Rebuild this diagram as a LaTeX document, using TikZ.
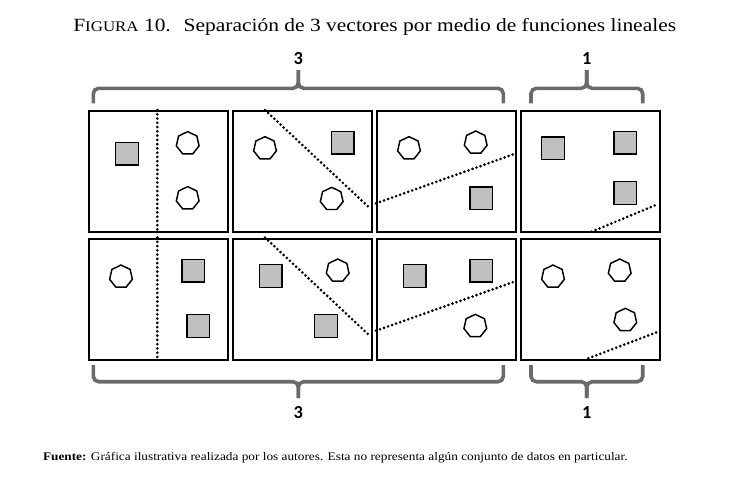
\documentclass[tikz,border=0pt]{standalone}
\usepackage{fontspec}
\setmainfont{Liberation Serif}
\newfontfamily\bracefont{Carlito}
\usetikzlibrary{shapes.geometric}

\begin{document}
\begin{tikzpicture}[x=0.75pt,y=-0.75pt,
    panel/.style={draw,line width=1.5pt,minimum width=103.9pt,minimum height=91.1pt,inner sep=0pt,anchor=north west},
    sq/.style={draw,fill=gray!50,line width=1.1pt,minimum size=17pt,inner sep=0pt},
    hep/.style={draw,regular polygon,regular polygon sides=7,line width=1.1pt,minimum size=17.5pt,inner sep=0pt},
    sep/.style={line width=2.2pt,line cap=round,dash pattern=on 0pt off 3.2pt},
    brace/.style={draw=black!58,line width=2.7pt,rounded corners=4pt},
    bracelabel/.style={font=\bracefont\bfseries\fontsize{13.8pt}{15pt}\selectfont,inner sep=0pt}]
  \useasboundingbox (0,0) rectangle (731,482);
  \node[anchor=base west,inner sep=0pt,xscale=1.15,font=\fontsize{14pt}{16pt}\selectfont] (title) at (73,31)
    {F{\fontsize{11pt}{12pt}\selectfont IGURA} 10.\hspace{0.6em}Separación de 3 vectores por medio de funciones lineales};
  \foreach \c/\x in {1/88,2/232,3/376,4/520} {
    \node[panel] (t\c) at (\x,110) {};
    \node[panel] (b\c) at (\x,237.5) {};
  }
  \draw[sep] (157.3,110) -- (157.3,231.7);
  \draw[sep] (265,110) -- (370,208.3);
  \draw[sep] (376,203.3) -- (514.3,154);
  \draw[sep] (591.7,231.7) -- (658.3,204);
  \draw[sep] (157.3,237.5) -- (157.3,358.3);
  \draw[sep] (265,237.5) -- (370,336);
  \draw[sep] (376,330.7) -- (514.3,281.7);
  \draw[sep] (588.3,358.3) -- (658.3,331.7);
  \node[sq] (t1a) at (127,153.7) {};
  \node[hep] (t1b) at (187.7,143.3) {};
  \node[hep] (t1c) at (187.7,198.3) {};
  \node[hep] (t2a) at (265,148.3) {};
  \node[sq] (t2b) at (342.7,142.7) {};
  \node[hep] (t2c) at (331.7,199) {};
  \node[hep] (t3a) at (409,148.3) {};
  \node[hep] (t3b) at (475.7,142.7) {};
  \node[sq] (t3c) at (481.3,198.3) {};
  \node[sq] (t4a) at (553,148.3) {};
  \node[sq] (t4b) at (625.3,142.7) {};
  \node[sq] (t4c) at (625.3,193) {};
  \node[hep] (b1a) at (121,276.7) {};
  \node[sq] (b1b) at (193.3,270.7) {};
  \node[sq] (b1c) at (198.3,326) {};
  \node[sq] (b2a) at (270.7,276) {};
  \node[hep] (b2b) at (337.7,270.7) {};
  \node[sq] (b2c) at (326,326) {};
  \node[sq] (b3a) at (414.7,276) {};
  \node[sq] (b3b) at (481.3,270.7) {};
  \node[hep] (b3c) at (475.3,326) {};
  \node[hep] (b4a) at (553,276.7) {};
  \node[hep] (b4b) at (619.7,270.7) {};
  \node[hep] (b4c) at (625.3,320) {};
  \draw[brace] (93.3,103.3) |- (298.3,88.3) -- (298.3,70);
  \draw[brace] (503.3,103.3) |- (298.3,88.3) -- (298.3,70);
  \draw[brace] (531,103.3) |- (586.7,88.3) -- (586.7,70);
  \draw[brace] (642.7,103.3) |- (586.7,88.3) -- (586.7,70);
  \draw[brace] (93.3,365) |- (298.3,381.7) -- (298.3,398);
  \draw[brace] (503.3,365) |- (298.3,381.7) -- (298.3,398);
  \draw[brace] (531,365) |- (586.7,381.7) -- (586.7,398);
  \draw[brace] (642.7,365) |- (586.7,381.7) -- (586.7,398);
  \node[bracelabel] (n3t) at (298.3,58.3) {3};
  \node[bracelabel] (n1t) at (586.7,58.3) {1};
  \node[bracelabel] (n3b) at (298.3,412.5) {3};
  \node[bracelabel] (n1b) at (586.7,412.5) {1};
  \node[anchor=base west,inner sep=0pt,xscale=1.145,font=\fontsize{8.7pt}{10pt}\selectfont] (source) at (42.7,460)
    {\textbf{Fuente:} Gráfica ilustrativa realizada por los autores. Esta no representa algún conjunto de datos en particular.};
\end{tikzpicture}
\end{document}
